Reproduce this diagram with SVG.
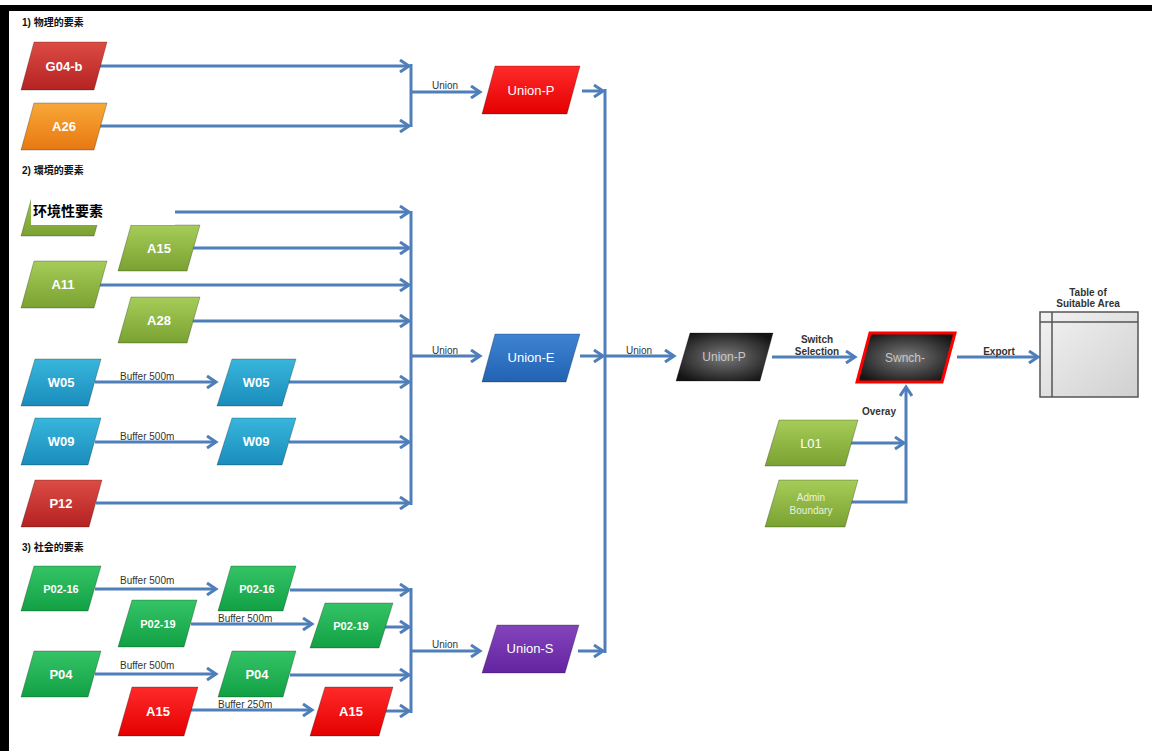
<svg xmlns="http://www.w3.org/2000/svg" width="1152" height="751" viewBox="0 0 1152 751">
<defs>
<linearGradient id="gDarkRed" x1="0" y1="0" x2="0" y2="1"><stop offset="0" stop-color="#dc4c44"/><stop offset="1" stop-color="#b42222"/></linearGradient>
<linearGradient id="gOrange" x1="0" y1="0" x2="0" y2="1"><stop offset="0" stop-color="#f8a838"/><stop offset="1" stop-color="#e87812"/></linearGradient>
<linearGradient id="gOlive" x1="0" y1="0" x2="0" y2="1"><stop offset="0" stop-color="#a6cc58"/><stop offset="1" stop-color="#7aa232"/></linearGradient>
<linearGradient id="gCyan" x1="0" y1="0" x2="0" y2="1"><stop offset="0" stop-color="#38b6dc"/><stop offset="1" stop-color="#1a8cbc"/></linearGradient>
<linearGradient id="gGreen" x1="0" y1="0" x2="0" y2="1"><stop offset="0" stop-color="#34c466"/><stop offset="1" stop-color="#12a044"/></linearGradient>
<linearGradient id="gRed" x1="0" y1="0" x2="0" y2="1"><stop offset="0" stop-color="#ff2a2a"/><stop offset="1" stop-color="#e40000"/></linearGradient>
<linearGradient id="gBlue" x1="0" y1="0" x2="0" y2="1"><stop offset="0" stop-color="#3e84d2"/><stop offset="1" stop-color="#2262b2"/></linearGradient>
<linearGradient id="gPurple" x1="0" y1="0" x2="0" y2="1"><stop offset="0" stop-color="#8444bc"/><stop offset="1" stop-color="#6424a0"/></linearGradient>
<radialGradient id="gBlack" cx="0.5" cy="0.5" r="0.6"><stop offset="0" stop-color="#7a7a7a"/><stop offset="1" stop-color="#141414"/></radialGradient>
<linearGradient id="gTable" x1="0" y1="0" x2="1" y2="1"><stop offset="0" stop-color="#f2f2f2"/><stop offset="1" stop-color="#d0d0d0"/></linearGradient>
<marker id="arr" markerUnits="userSpaceOnUse" markerWidth="14" markerHeight="14" refX="11" refY="7" orient="auto">
<path d="M2,1 L11,7 L2,13" fill="none" stroke="#4f7fba" stroke-width="3"/>
</marker>
</defs>
<style>
.conn{fill:none;stroke:#4f7fba;stroke-width:3}
.node polygon{stroke:rgba(0,0,0,0.25);stroke-width:1}
.lbl{font-family:"Liberation Sans",Arial,sans-serif;font-size:13px;font-weight:bold;fill:#ffffff;text-anchor:middle}
.lblg{font-family:"Liberation Sans",Arial,sans-serif;font-size:12px;fill:#c8c8c8;text-anchor:middle}
.small{font-family:"Liberation Sans",Arial,sans-serif;font-size:10px;fill:#333;}
.smallb{font-family:"Liberation Sans",Arial,sans-serif;font-size:10px;font-weight:bold;fill:#333;text-anchor:middle}
.sec{font-family:"Liberation Sans","Noto Sans CJK JP",sans-serif;font-size:10px;font-weight:bold;fill:#111}
</style>
<rect x="0" y="0" width="1152" height="751" fill="#ffffff"/>
<rect x="0" y="5" width="1152" height="6" fill="#000"/>
<rect x="0" y="5" width="9" height="746" fill="#000"/>

<text class="sec" x="22" y="26">1) 物理的要素</text>
<text class="sec" x="22" y="174">2) 環境的要素</text>
<text class="sec" x="22" y="551">3) 社会的要素</text>

<g id="connectors">
<path class="conn" marker-end="url(#arr)" d="M100,66 H409"/>
<path class="conn" marker-end="url(#arr)" d="M98,126 H409"/>
<path class="conn" d="M411,64 V127"/>
<path class="conn" marker-end="url(#arr)" d="M411,92 H480"/>

<path class="conn" marker-end="url(#arr)" d="M100,212 H409"/>
<path class="conn" marker-end="url(#arr)" d="M193,248 H409"/>
<path class="conn" marker-end="url(#arr)" d="M95,285 H409"/>
<path class="conn" marker-end="url(#arr)" d="M193,321 H409"/>
<path class="conn" marker-end="url(#arr)" d="M95,382 H216"/>
<path class="conn" marker-end="url(#arr)" d="M289,382 H409"/>
<path class="conn" marker-end="url(#arr)" d="M95,442 H216"/>
<path class="conn" marker-end="url(#arr)" d="M289,442 H409"/>
<path class="conn" marker-end="url(#arr)" d="M96,503 H409"/>
<path class="conn" d="M411,211 V505"/>
<path class="conn" marker-end="url(#arr)" d="M411,356 H480"/>

<path class="conn" marker-end="url(#arr)" d="M95,589 H216"/>
<path class="conn" marker-end="url(#arr)" d="M290,590 H409"/>
<path class="conn" marker-end="url(#arr)" d="M191,624 H312"/>
<path class="conn" marker-end="url(#arr)" d="M383,627 H409"/>
<path class="conn" marker-end="url(#arr)" d="M95,674 H216"/>
<path class="conn" marker-end="url(#arr)" d="M290,675 H409"/>
<path class="conn" marker-end="url(#arr)" d="M190,710 H312"/>
<path class="conn" marker-end="url(#arr)" d="M383,711 H409"/>
<path class="conn" d="M411,588 V713"/>
<path class="conn" marker-end="url(#arr)" d="M411,651 H480"/>

<path class="conn" marker-end="url(#arr)" d="M582,91 H603"/>
<path class="conn" marker-end="url(#arr)" d="M580,356 H603"/>
<path class="conn" marker-end="url(#arr)" d="M578,651 H603"/>
<path class="conn" d="M605,89 V653"/>
<path class="conn" marker-end="url(#arr)" d="M605,356 H674"/>

<path class="conn" marker-end="url(#arr)" d="M772,357 H855"/>
<path class="conn" marker-end="url(#arr)" d="M957,357 H1038"/>
<path class="conn" marker-end="url(#arr)" d="M849,443 H904"/>
<path class="conn" marker-end="url(#arr)" d="M842,502 H906 V387"/>

<text class="small" x="432" y="89">Union</text>
<text class="small" x="432" y="354">Union</text>
<text class="small" x="432" y="648">Union</text>
<text class="small" x="626" y="354">Union</text>
<text class="small" x="120" y="380">Buffer 500m</text>
<text class="small" x="120" y="440">Buffer 500m</text>
<text class="small" x="120" y="584">Buffer 500m</text>
<text class="small" x="218" y="622">Buffer 500m</text>
<text class="small" x="120" y="669">Buffer 500m</text>
<text class="small" x="218" y="708">Buffer 250m</text>
<text class="smallb" x="817" y="343">Switch</text>
<text class="smallb" x="817" y="355">Selection</text>
<text class="smallb" x="999" y="355">Export</text>
<text class="smallb" x="879" y="415">Overay</text>
</g>

<g id="n-g04b" class="node"><polygon points="34,42 107,42 94,90 21,90" fill="url(#gDarkRed)"/><text class="lbl" x="64" y="71">G04-b</text></g>
<g id="n-a26" class="node"><polygon points="34,103 107,103 94,150 21,150" fill="url(#gOrange)"/><text class="lbl" x="64" y="131">A26</text></g>

<g id="n-env" class="node"><polygon points="34,189 107,189 94,236 21,236" fill="url(#gOlive)"/></g>
<g id="n-a15e" class="node"><polygon points="131,225 200,225 187,271 118,271" fill="url(#gOlive)"/><text class="lbl" x="159" y="253">A15</text></g>
<g id="n-a11" class="node"><polygon points="34,261 107,261 94,308 21,308" fill="url(#gOlive)"/><text class="lbl" x="63" y="289">A11</text></g>
<g id="n-a28" class="node"><polygon points="131,297 200,297 187,343 118,343" fill="url(#gOlive)"/><text class="lbl" x="159" y="325">A28</text></g>
<g id="n-w05a" class="node"><polygon points="35,359 101,359 88,406 21,406" fill="url(#gCyan)"/><text class="lbl" x="61" y="387">W05</text></g>
<g id="n-w05b" class="node"><polygon points="232,359 296,359 282,406 217,406" fill="url(#gCyan)"/><text class="lbl" x="256" y="387">W05</text></g>
<g id="n-w09a" class="node"><polygon points="35,418 101,418 88,465 21,465" fill="url(#gCyan)"/><text class="lbl" x="61" y="446">W09</text></g>
<g id="n-w09b" class="node"><polygon points="232,418 296,418 282,465 217,465" fill="url(#gCyan)"/><text class="lbl" x="256" y="446">W09</text></g>
<g id="n-p12" class="node"><polygon points="35,480 102,480 89,527 21,527" fill="url(#gDarkRed)"/><text class="lbl" x="61" y="508">P12</text></g>

<g id="env-label">
<rect x="31" y="186" width="144" height="39" fill="#ffffff"/>
<text x="33" y="216" font-family="Liberation Sans,'Noto Sans CJK SC',sans-serif" font-size="14" font-weight="bold" fill="#000">环境性要素</text>
</g>

<g id="n-p0216a" class="node"><polygon points="34,566 101,566 88,611 21,611" fill="url(#gGreen)"/><text class="lbl" x="61" y="593" style="font-size:11px">P02-16</text></g>
<g id="n-p0216b" class="node"><polygon points="231,566 296,566 283,611 218,611" fill="url(#gGreen)"/><text class="lbl" x="257" y="593" style="font-size:11px">P02-16</text></g>
<g id="n-p0219a" class="node"><polygon points="132,600 197,600 184,647 118,647" fill="url(#gGreen)"/><text class="lbl" x="158" y="628" style="font-size:11px">P02-19</text></g>
<g id="n-p0219b" class="node"><polygon points="325,603 393,603 379,648 310,648" fill="url(#gGreen)"/><text class="lbl" x="351" y="630" style="font-size:11px">P02-19</text></g>
<g id="n-p04a" class="node"><polygon points="34,651 101,651 88,697 21,697" fill="url(#gGreen)"/><text class="lbl" x="61" y="679">P04</text></g>
<g id="n-p04b" class="node"><polygon points="232,651 296,651 283,697 218,697" fill="url(#gGreen)"/><text class="lbl" x="257" y="679">P04</text></g>
<g id="n-a15a" class="node"><polygon points="132,687 198,687 184,736 118,736" fill="url(#gRed)"/><text class="lbl" x="158" y="716">A15</text></g>
<g id="n-a15b" class="node"><polygon points="325,687 393,687 379,736 310,736" fill="url(#gRed)"/><text class="lbl" x="351" y="716">A15</text></g>

<g id="n-unionp" class="node"><polygon points="495,66 580,66 567,114 482,114" fill="url(#gRed)"/><text class="lbl" x="531" y="95" style="font-weight:normal">Union-P</text></g>
<g id="n-unione" class="node"><polygon points="495,334 580,334 566,382 482,382" fill="url(#gBlue)"/><text class="lbl" x="531" y="362" style="font-weight:normal">Union-E</text></g>
<g id="n-unions" class="node"><polygon points="497,625 579,625 565,673 482,673" fill="url(#gPurple)"/><text class="lbl" x="530" y="653" style="font-weight:normal">Union-S</text></g>

<g id="n-unionp2" class="node"><polygon points="690,333 773,333 760,381 676,381" fill="url(#gBlack)"/><text class="lblg" x="724" y="361">Union-P</text></g>
<g id="n-switch" class="node"><polygon points="870,333 955,333 942,382 857,382" fill="url(#gBlack)" style="stroke:#ff0000;stroke-width:3"/><text class="lblg" x="905" y="362">Swnch-</text></g>

<g id="n-l01" class="node"><polygon points="779,420 858,420 845,466 765,466" fill="url(#gOlive)"/><text class="lbl" x="811" y="448" style="font-weight:normal">L01</text></g>
<g id="n-admin" class="node"><polygon points="779,480 858,480 845,527 765,527" fill="url(#gOlive)"/><text class="lbl" x="811" y="501" style="font-size:10px;font-weight:normal;fill:#eaf2d8">Admin</text><text class="lbl" x="811" y="514" style="font-size:10px;font-weight:normal;fill:#eaf2d8">Boundary</text></g>

<g id="n-table">
<text class="smallb" x="1088" y="296">Table of</text>
<text class="smallb" x="1088" y="307">Suitable Area</text>
<rect x="1040" y="312" width="98" height="85" fill="url(#gTable)" stroke="#555" stroke-width="1.5"/>
<line x1="1052" y1="312" x2="1052" y2="397" stroke="#555" stroke-width="1.5"/>
<line x1="1040" y1="322" x2="1138" y2="322" stroke="#555" stroke-width="1.5"/>
</g>
</svg>
